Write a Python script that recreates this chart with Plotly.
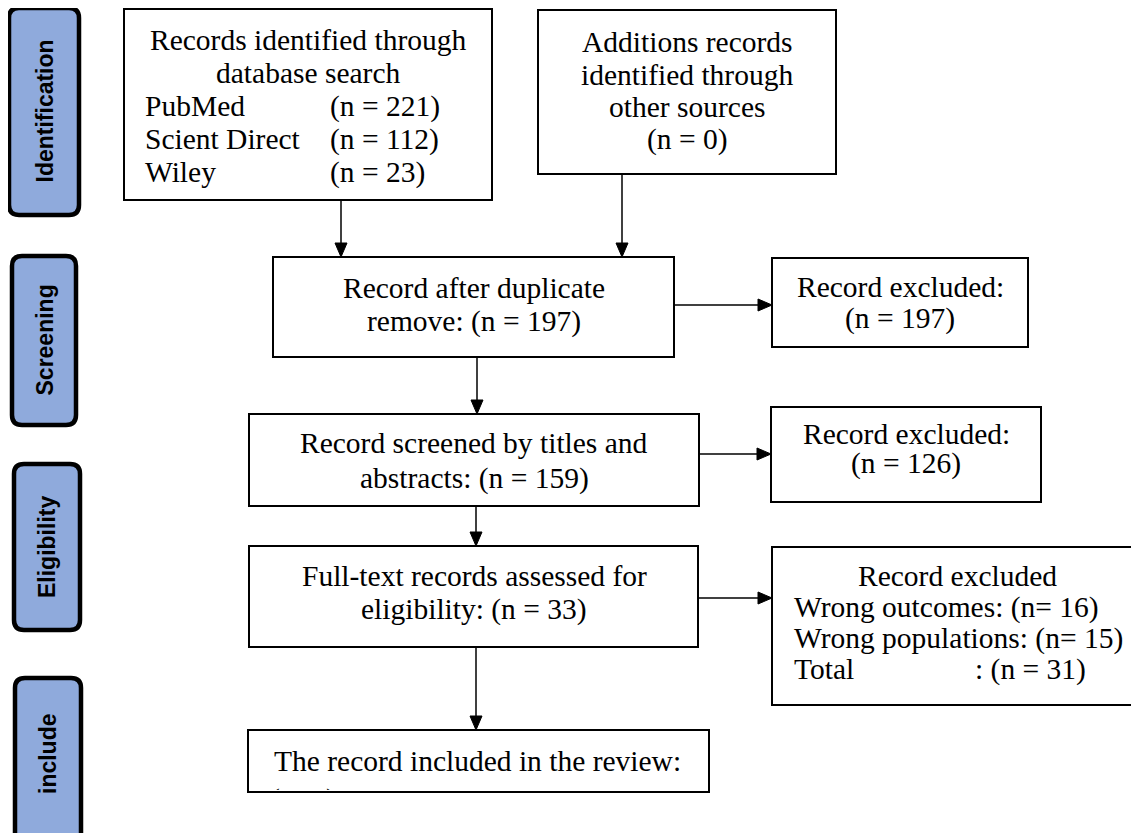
import plotly.graph_objects as go

# ---- data ----
phases = ["Identification", "Screening", "Eligibility", "include"]
db_sources = ["PubMed", "Scient Direct", "Wiley"]
db_counts = [221, 112, 23]
other_sources_n = 0
after_duplicates_n = 197
excluded_dup_n = 197
screened_n = 159
excluded_screen_n = 126
fulltext_n = 33
excl_reasons = ["Wrong outcomes", "Wrong populations"]
excl_counts = [16, 15]
excluded_total_n = 31
included_n = fulltext_n - excluded_total_n

W, H = 1139, 833
OFF = 8  # page body margin compensation
SERIF = "Liberation Serif, Times New Roman, serif"
SANS = "Liberation Sans, Arial, sans-serif"
FS = 29.5

fig = go.Figure()
shapes = []
annotations = []


def rect(x0, y0, x1, y1, lw=2):
    shapes.append(dict(type="rect", x0=x0, y0=y0, x1=x1, y1=y1, xref="x", yref="y",
                       line=dict(color="black", width=lw), fillcolor="white", layer="below"))


def rrect(x0, y0, x1, y1, r=10):
    p = (f"M {x0+r},{y0} L {x1-r},{y0} Q {x1},{y0} {x1},{y0+r} L {x1},{y1-r} "
         f"Q {x1},{y1} {x1-r},{y1} L {x0+r},{y1} Q {x0},{y1} {x0},{y1-r} "
         f"L {x0},{y0+r} Q {x0},{y0} {x0+r},{y0} Z")
    shapes.append(dict(type="path", path=p, xref="x", yref="y",
                       line=dict(color="black", width=4.5), fillcolor="#8FAADC", layer="below"))


def text(x, y, s, anchor="center", size=FS, font=SERIF, angle=0, bold=False):
    if bold:
        s = f"<b>{s}</b>"
    annotations.append(dict(x=x, y=y, xref="x", yref="y", text=s, showarrow=False,
                            xanchor=anchor, yanchor="middle", textangle=angle,
                            font=dict(family=font, size=size, color="black")))


def arrow_down(x, y0, y1):
    shapes.append(dict(type="line", x0=x, y0=y0, x1=x, y1=y1 - 12, xref="x", yref="y",
                       line=dict(color="black", width=1.5)))
    shapes.append(dict(type="path", path=f"M {x-6},{y1-14} L {x+6},{y1-14} L {x},{y1} Z",
                       xref="x", yref="y", fillcolor="black", line=dict(color="black", width=1)))


def arrow_right(y, x0, x1):
    shapes.append(dict(type="line", x0=x0, y0=y, x1=x1 - 12, y1=y, xref="x", yref="y",
                       line=dict(color="black", width=1.5)))
    shapes.append(dict(type="path", path=f"M {x1-14},{y-6} L {x1-14},{y+6} L {x1},{y} Z",
                       xref="x", yref="y", fillcolor="black", line=dict(color="black", width=1)))


# ---- side phase labels ----
side_boxes = [(9, 8, 79, 215), (12, 256, 76, 425), (14, 464, 80, 630), (15, 678, 81, 850)]
for (x0, y0, x1, y1), name in zip(side_boxes, phases):
    rrect(x0, y0, x1, y1)
    cy = (y0 + y1) / 2 if name != "include" else 754
    text((x0 + x1) / 2, cy, name, font=SANS, size=23, angle=-90, bold=True)

# ---- box 1 ----
rect(124, 9, 492, 200)
text(308, 40, "Records identified through")
text(308, 73, "database search")
for i, (src, n) in enumerate(zip(db_sources, db_counts)):
    y = 106 + i * 33
    text(143, y, src, anchor="left")
    text(328, y, f"(n = {n})", anchor="left")

# ---- box 2 ----
rect(538, 10, 836, 174)
for i, s in enumerate(["Additions records", "identified through", "other sources",
                       f"(n = {other_sources_n})"]):
    text(687, 42 + i * 32.5, s)

# ---- box 3 ----
rect(273, 257, 674, 357)
text(474, 288, "Record after duplicate")
text(474, 321, f"remove: (n = {after_duplicates_n})")
rect(772, 258, 1028, 347)
text(900, 287, "Record excluded:")
text(900, 318, f"(n = {excluded_dup_n})")

# ---- box 4 ----
rect(249, 414, 699, 506)
text(474, 443, "Record screened by titles and")
text(474, 478, f"abstracts: (n = {screened_n})")
rect(771, 407, 1041, 502)
text(906, 434, "Record excluded:")
text(906, 463, f"(n = {excluded_screen_n})")

# ---- box 5 ----
rect(249, 546, 698, 647)
text(474, 576, "Full-text records assessed for")
text(474, 609, f"eligibility: (n = {fulltext_n})")
rect(772, 547, 1145, 705)
text(957, 576, "Record excluded")
for i, (r, n) in enumerate(zip(excl_reasons, excl_counts)):
    text(792, 607 + i * 31, f"{r}: (n= {n})", anchor="left")
text(792, 669, "Total", anchor="left")
text(973, 669, f": (n = {excluded_total_n})", anchor="left")

# ---- box 6 ----
rect(248, 730, 709, 792)
text(272, 761, "The record included in the review:", anchor="left")

# clipped second line inside the last box (overflowing text, cut at box edge)
box6_top, box6_bot = 730, 790
fig.add_trace(go.Scatter(
    x=[270], y=[801.5], mode="text", text=[f"(n={included_n})"], textposition="middle right",
    textfont=dict(family=SERIF, size=FS, color="black"), cliponaxis=True,
    xaxis="x2", yaxis="y2", hoverinfo="skip", showlegend=False))

# ---- arrows ----
arrow_down(341, 200, 257)
arrow_down(622, 174, 257)
arrow_right(305, 674, 772)
arrow_down(477, 357, 414)
arrow_right(454, 699, 771)
arrow_down(476, 506, 546)
arrow_right(598, 698, 772)
arrow_down(476, 647, 730)

fig.update_layout(
    width=W, height=H, margin=dict(l=0, r=0, t=0, b=0),
    paper_bgcolor="white", plot_bgcolor="rgba(0,0,0,0)",
    xaxis=dict(range=[OFF, W + OFF], visible=False, fixedrange=True),
    yaxis=dict(range=[H + OFF, OFF], visible=False, fixedrange=True),
    xaxis2=dict(range=[OFF, W + OFF], visible=False, fixedrange=True, domain=[0, 1],
                anchor="y2"),
    yaxis2=dict(range=[box6_bot, box6_top], visible=False, fixedrange=True, anchor="x2",
                domain=[1 - (box6_bot - OFF) / H, 1 - (box6_top - OFF) / H]),
    shapes=shapes, annotations=annotations, showlegend=False,
)
fig.write_html("out.html")
